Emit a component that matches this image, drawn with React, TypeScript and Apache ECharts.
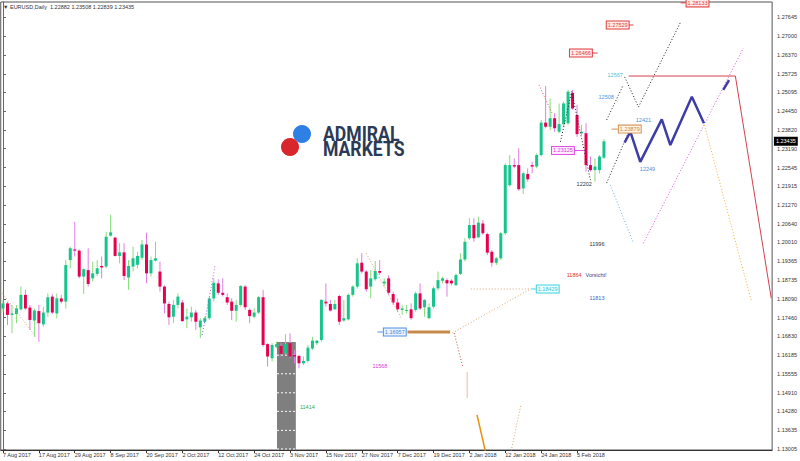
import React, { useEffect, useRef } from 'react';
import * as echarts from 'echarts';

const FONT = '"Liberation Sans", Arial, sans-serif';

const titleText = '\u25BC EURUSD,Daily  1.22882 1.23508 1.22839 1.23435';

const yTicks = [1.13005, 1.13635, 1.1428, 1.1491, 1.15555, 1.16185, 1.1683, 1.1746, 1.1809, 1.18735, 1.19365, 1.2001,
  1.2064, 1.2127, 1.21915, 1.22545, 1.2319, 1.2382, 1.2445, 1.25095, 1.25725, 1.2637, 1.27, 1.27645];

const xTickIdx = [0, 8, 16, 24, 32, 40, 48, 56, 64, 72, 80, 88, 96, 104, 112, 120, 128];
const xTickLabels = ['7 Aug 2017', '17 Aug 2017', '29 Aug 2017', '8 Sep 2017', '20 Sep 2017', '2 Oct 2017', '12 Oct 2017',
  '24 Oct 2017', '3 Nov 2017', '15 Nov 2017', '27 Nov 2017', '7 Dec 2017', '19 Dec 2017', '2 Jan 2018', '12 Jan 2018',
  '24 Jan 2018', '5 Feb 2018'];

// [open, high, low, close]
const candles: number[][] = [
  [1.1777, 1.1806, 1.1766, 1.1794], [1.1794, 1.18, 1.1721, 1.1755], [1.1755, 1.1789, 1.1693, 1.176], [1.1758, 1.1789, 1.1727, 1.1777],
  [1.1774, 1.1851, 1.1769, 1.1823], [1.1823, 1.184, 1.1772, 1.1777], [1.178, 1.1789, 1.1704, 1.1738], [1.1736, 1.1777, 1.1681, 1.177],
  [1.1768, 1.1789, 1.1664, 1.1727], [1.1723, 1.1783, 1.1715, 1.1763], [1.1763, 1.1828, 1.1749, 1.1815], [1.1817, 1.1826, 1.1758, 1.1763],
  [1.176, 1.1828, 1.1743, 1.1811], [1.1811, 1.1823, 1.1794, 1.18], [1.18, 1.1941, 1.1777, 1.1924], [1.1941, 1.1986, 1.1913, 1.1981],
  [1.1977, 1.2071, 1.1953, 1.1973], [1.1973, 1.1977, 1.1879, 1.1885], [1.1885, 1.1913, 1.1826, 1.191], [1.1907, 1.1981, 1.1851, 1.186],
  [1.1879, 1.1936, 1.1868, 1.1896], [1.1894, 1.1941, 1.1887, 1.1913], [1.1921, 1.1953, 1.1879, 1.1916], [1.1919, 1.2037, 1.1913, 1.202],
  [1.2024, 1.2094, 1.202, 1.2035], [1.2017, 1.202, 1.1953, 1.1955], [1.1955, 1.1998, 1.193, 1.1967], [1.1967, 1.1998, 1.1873, 1.1887],
  [1.1882, 1.1941, 1.184, 1.1921], [1.1919, 1.1986, 1.1902, 1.1947], [1.1925, 1.1969, 1.1913, 1.1955], [1.1949, 1.2009, 1.1941, 1.1994],
  [1.1994, 1.2034, 1.1862, 1.1896], [1.1896, 1.1953, 1.1885, 1.1941], [1.1939, 1.2003, 1.1936, 1.1947], [1.1902, 1.1936, 1.1834, 1.1851],
  [1.1851, 1.1856, 1.176, 1.1794], [1.1792, 1.18, 1.1721, 1.1747], [1.1749, 1.1806, 1.1727, 1.1789], [1.1789, 1.1828, 1.1777, 1.1817],
  [1.1797, 1.1806, 1.1732, 1.1734], [1.174, 1.1777, 1.171, 1.1749], [1.1747, 1.1783, 1.1732, 1.1763], [1.1763, 1.1772, 1.1704, 1.1732],
  [1.1713, 1.1744, 1.1676, 1.1736], [1.1732, 1.1749, 1.1727, 1.1744], [1.1744, 1.1817, 1.1738, 1.1811], [1.1811, 1.1879, 1.18, 1.1864],
  [1.1862, 1.1876, 1.1823, 1.183], [1.183, 1.1879, 1.1817, 1.1823], [1.1815, 1.1828, 1.1789, 1.1797], [1.18, 1.1811, 1.1738, 1.1769],
  [1.1769, 1.1806, 1.1732, 1.1789], [1.1789, 1.1856, 1.1783, 1.1853], [1.1851, 1.1856, 1.1772, 1.1781], [1.1772, 1.1777, 1.1727, 1.1751],
  [1.1749, 1.1777, 1.1743, 1.1763], [1.1763, 1.1819, 1.1758, 1.1815], [1.1815, 1.184, 1.1647, 1.1653], [1.1656, 1.1659, 1.158, 1.1614],
  [1.1608, 1.1659, 1.1597, 1.1653], [1.1647, 1.1664, 1.1642, 1.1656], [1.165, 1.1659, 1.1614, 1.1623], [1.1625, 1.169, 1.1619, 1.1656],
  [1.1659, 1.1693, 1.1608, 1.1614], [1.1619, 1.1636, 1.1591, 1.1614], [1.1616, 1.1619, 1.1574, 1.1591], [1.1591, 1.1614, 1.1585, 1.1599],
  [1.1599, 1.1653, 1.1593, 1.1644], [1.1641, 1.1681, 1.1636, 1.1668], [1.1659, 1.167, 1.1653, 1.1668], [1.167, 1.1808, 1.1664, 1.1806],
  [1.18, 1.1862, 1.1783, 1.1794], [1.1792, 1.1806, 1.1766, 1.177], [1.1774, 1.1806, 1.1772, 1.1792], [1.1819, 1.1823, 1.1721, 1.1732],
  [1.1736, 1.1806, 1.1732, 1.1744], [1.174, 1.1828, 1.1736, 1.1823], [1.1823, 1.1856, 1.1817, 1.1851], [1.1851, 1.1947, 1.1845, 1.193],
  [1.1932, 1.1964, 1.1896, 1.1902], [1.1902, 1.1907, 1.1834, 1.1842], [1.1851, 1.1907, 1.1811, 1.1879], [1.1876, 1.1938, 1.1871, 1.1904],
  [1.1904, 1.1941, 1.189, 1.1898], [1.1862, 1.1879, 1.1851, 1.1868], [1.1879, 1.189, 1.1823, 1.183], [1.1826, 1.1834, 1.1789, 1.1797],
  [1.1797, 1.1811, 1.1766, 1.1774], [1.1772, 1.1789, 1.1755, 1.1777], [1.177, 1.1789, 1.176, 1.1772], [1.1774, 1.1794, 1.1738, 1.1744],
  [1.1772, 1.1834, 1.1766, 1.1828], [1.1828, 1.1862, 1.1772, 1.1777], [1.1781, 1.1808, 1.1749, 1.1806], [1.1744, 1.1794, 1.174, 1.1781],
  [1.1783, 1.1851, 1.1777, 1.1845], [1.1845, 1.1902, 1.1839, 1.1873], [1.1871, 1.1885, 1.1862, 1.1879], [1.1873, 1.1879, 1.1817, 1.1862],
  [1.1871, 1.1876, 1.1856, 1.1862], [1.1856, 1.1896, 1.1853, 1.189], [1.1894, 1.1964, 1.189, 1.1943], [1.1943, 1.2015, 1.1936, 1.2003],
  [1.2015, 1.2083, 1.2009, 1.206], [1.206, 1.2083, 1.2003, 1.2015], [1.2018, 1.2088, 1.2015, 1.2068], [1.2065, 1.2077, 1.2026, 1.2032],
  [1.2029, 1.2034, 1.1958, 1.1966], [1.1969, 1.1975, 1.1919, 1.1932], [1.1932, 1.1952, 1.1924, 1.1947], [1.1947, 1.2037, 1.1941, 1.2032],
  [1.2032, 1.2269, 1.2026, 1.2263], [1.2195, 1.2297, 1.219, 1.2263], [1.2263, 1.2286, 1.2252, 1.2258], [1.2263, 1.232, 1.2176, 1.2181],
  [1.2184, 1.2241, 1.2165, 1.2235], [1.2233, 1.2252, 1.2207, 1.2215], [1.2263, 1.2274, 1.2235, 1.2258], [1.2258, 1.2303, 1.2252, 1.2297],
  [1.2297, 1.2416, 1.2292, 1.2407], [1.2407, 1.2531, 1.2388, 1.2393], [1.2393, 1.2489, 1.2382, 1.2422], [1.2422, 1.2439, 1.2376, 1.2388],
  [1.2376, 1.2472, 1.2371, 1.2402], [1.2402, 1.2478, 1.2393, 1.2472], [1.2405, 1.2518, 1.2399, 1.2512], [1.2508, 1.2518, 1.245, 1.2455],
  [1.2433, 1.2467, 1.2359, 1.2368], [1.2371, 1.2399, 1.2365, 1.2376], [1.2371, 1.2405, 1.2241, 1.2263], [1.2263, 1.2292, 1.2241, 1.2246],
  [1.2246, 1.2286, 1.2207, 1.2258], [1.2246, 1.2297, 1.2235, 1.2292], [1.22882, 1.23508, 1.22839, 1.23435],
];

// grey rectangle object: [fromBar, toBar, topPrice]
const shadeBox = [61.1, 65.3, 1.1663];

// annotation lines: [barIndex, price]
const lineLeftTan = [[-0.1, 1.1828], [7.3, 1.1681]];
const lineOctBlue = [[44.4, 1.1687], [45.9, 1.1806]];
const lineOctMagenta = [[45.9, 1.1806], [47.3, 1.1924]];
const lineNovTan = [[81.0, 1.1964], [88.8, 1.1745]];
const lineTargetFlat = [[104.3, 1.18429], [117.3, 1.18429]];
const lineTargetRise = [[100.2, 1.1694], [117.3, 1.184]];
const lineDropRed = [[100.6, 1.1694], [102.5, 1.158]];
const lineSalmonV = [[103.5, 1.1562], [103.5, 1.1473]];
const lineOrange = [[105.7, 1.1416], [108.2, 1.125]];
const lineLowTan = [[113.3, 1.1294], [115.5, 1.145]];
const thickBar = [[90.2, 1.1697], [99.7, 1.1697]];
const lineRedTop = [[119.5, 1.2535], [122.4, 1.244]];
const lineBlack1 = [[124.3, 1.2342], [126.8, 1.2512], [131.0, 1.2212]];
const lineBlack2 = [[134.6, 1.2416], [138.2, 1.2531]];
const lineBlack3 = [[138.6, 1.2562], [141.7, 1.246], [151.1, 1.2748]];
const lineBlack4 = [[134.6, 1.2202], [139.5, 1.2375]];
const lineLightBlue = [[135.4, 1.2196], [140.6, 1.1998]];
const lineMagenta = [[142.8, 1.1998], [165.1, 1.266]];
const lineGold = [[156.4, 1.2399], [166.8, 1.1806]];
const lineRed = [[139.5, 1.2565], [163.3, 1.2565], [171.3, 1.1812]];
const blueWave = [[138.6, 1.2339], [139.9, 1.2376], [142.1, 1.2274], [146.9, 1.2418], [148.8, 1.2331], [153.6, 1.2495], [156.3, 1.2405]];
const blueWave2 = [[160.6, 1.2518], [161.9, 1.2551]];
const connRed1 = [[131.3, 1.2643], [132.6, 1.2643]];
const connRed2 = [[139.3, 1.2738], [140.6, 1.2738]];
const connRed3 = [[151.1, 1.2813], [152.2, 1.2813]];
const connTan = [[135.7, 1.2385], [137.1, 1.2385]];
const connMagenta = [[127.3, 1.23125], [129.5, 1.23125]];
const connCyan = [[117.7, 1.18429], [118.8, 1.18429]];
const connBlue = [[83.5, 1.1697], [84.7, 1.1697]];

// text labels: text, barIndex, price, style kind
const textLabels = [
  { t: '1.28133', x: 152.2, p: 1.2813, k: 'boxRed' },
  { t: '1.27529', x: 134.4, p: 1.2738, k: 'boxRed' },
  { t: '1.26466', x: 126.2, p: 1.2643, k: 'boxRed' },
  { t: '1.23879', x: 137.1, p: 1.2385, k: 'boxTan' },
  { t: '1.23125', x: 122.2, p: 1.23125, k: 'boxMagenta' },
  { t: '1.18429', x: 118.8, p: 1.18429, k: 'boxCyan' },
  { t: '1.16957', x: 84.7, p: 1.1697, k: 'boxBlue' },
  { t: '12567', x: 134.8, p: 1.2568, k: 'cyan' },
  { t: '12508', x: 132.8, p: 1.2494, k: 'blue' },
  { t: '12421', x: 141.1, p: 1.2416, k: 'blue' },
  { t: '12249', x: 142.0, p: 1.225, k: 'blue' },
  { t: '12202', x: 127.9, p: 1.2199, k: 'dark' },
  { t: '11996', x: 130.8, p: 1.1996, k: 'dark' },
  { t: '11864', x: 125.7, p: 1.189, k: 'red' },
  { t: 'Vorsicht!', x: 129.9, p: 1.189, k: 'navy' },
  { t: '11813', x: 130.8, p: 1.1812, k: 'navy2' },
  { t: '11568', x: 82.4, p: 1.1582, k: 'magenta' },
  { t: '11414', x: 66.2, p: 1.1443, k: 'green' },
];

const labelStyles: Record<string, any> = {
  boxRed: { c: '#e03c3c', bg: '#ffeaea', bd: '#e03c3c' },
  boxTan: { c: '#c8863e', bg: '#fff3e6', bd: '#d09050' },
  boxMagenta: { c: '#d640d6', bg: '#ffeaff', bd: '#e050e0' },
  boxCyan: { c: '#38c4d8', bg: '#eaffff', bd: '#40d0e0' },
  boxBlue: { c: '#4a88d8', bg: '#eaf4ff', bd: '#5090e0' },
  tag: { c: '#ffffff', bg: '#000000', bd: '#000000' },
  cyan: { c: '#4cc4d8' },
  blue: { c: '#4a8ee0' },
  dark: { c: '#333333' },
  red: { c: '#e03030' },
  navy: { c: '#3a3a8a' },
  navy2: { c: '#4a64b8' },
  magenta: { c: '#d040d0' },
  green: { c: '#3fa03f' },
};

const BULL_BODY = '#16c48c';
const BULL_WICK = '#84de7a';
const BEAR_BODY = '#e6004e';
const BEAR_WICK = '#e07ee6';

function lineSeries(data: number[][], color: string, type: any = [1, 2], width = 1) {
  return {
    type: 'line', data, symbol: 'none', showSymbol: false, silent: true, clip: true, z: 4,
    lineStyle: { color, width, type }, emphasis: { disabled: true },
  };
}

export default function App() {
  const ref = useRef<HTMLDivElement>(null);
  useEffect(() => {
    if (!ref.current) return;
    const chart = echarts.init(ref.current, undefined, { renderer: 'svg' });
    const lastClose = candles[candles.length - 1][3];
    const labelData = textLabels.map((d, k) => [d.x, d.p, k]);
    labelData.push([171.9, lastClose, -1]);

    const option: any = {
      animation: false,
      backgroundColor: '#ffffff',
      grid: { left: 0, right: 25, top: 2, bottom: 11, show: true, borderColor: '#555', borderWidth: 1, backgroundColor: '#fff' },
      xAxis: {
        type: 'value', min: -0.5, max: 171.5,
        axisLine: { show: true, onZero: false, lineStyle: { color: '#333' } },
        axisTick: { show: true, customValues: xTickIdx, length: 3, lineStyle: { color: '#333' } },
        axisLabel: {
          customValues: xTickIdx,
          formatter: (v: number) => xTickLabels[xTickIdx.indexOf(Math.round(v))] ?? '',
          align: 'left', fontSize: 5.5, color: '#333', margin: 2, fontFamily: FONT,
        },
        splitLine: { show: false },
      },
      yAxis: {
        type: 'value', position: 'right', min: 1.1297, max: 1.2816, scale: true,
        axisLine: { show: true, lineStyle: { color: '#666' } },
        axisTick: { show: true, customValues: yTicks, length: 3, lineStyle: { color: '#666' } },
        axisLabel: {
          customValues: yTicks, formatter: (v: number) => v.toFixed(5),
          fontSize: 5.5, color: '#333', margin: 5, fontFamily: FONT,
        },
        splitLine: { show: false },
      },
      graphic: [
        { type: 'text', left: 3, top: 4, z: 10, style: { text: titleText, font: `5.5px ${FONT}`, fill: '#333' } },
        { type: 'circle', shape: { cx: 302, cy: 134, r: 9 }, style: { fill: '#2f80e4' }, z: 10 },
        { type: 'circle', shape: { cx: 290, cy: 147, r: 9 }, style: { fill: '#d8262d' }, z: 10 },
        { type: 'text', x: 323, y: 134.5, scaleX: 0.88, z: 10,
          style: { text: 'ADMIRAL', font: `bold 20px Roboto`, fill: '#2b3a55', align: 'left', verticalAlign: 'middle' } },
        { type: 'text', x: 323, y: 149.5, scaleX: 0.88, z: 10,
          style: { text: 'MARKETS', font: `bold 20px Roboto`, fill: '#2b3a55', align: 'left', verticalAlign: 'middle' } },
      ],
      series: [
        {
          type: 'custom', silent: true, z: 1, data: [shadeBox],
          encode: { x: [0, 1], y: 2 },
          renderItem: (_p: any, api: any) => {
            const a = api.coord([api.value(0), api.value(2)]);
            const b = api.coord([api.value(1), 1.1297]);
            const children: any[] = [
              { type: 'rect', shape: { x: a[0], y: a[1], width: b[0] - a[0], height: b[1] - a[1] }, style: { fill: '#7f7f7f' } },
            ];
            yTicks.forEach((t) => {
              if (t < api.value(2)) {
                const q = api.coord([api.value(0), t]);
                children.push({ type: 'line', shape: { x1: a[0], y1: q[1], x2: b[0], y2: q[1] },
                  style: { stroke: '#ffffff', lineWidth: 1, lineDash: [2, 2] } });
              }
            });
            return { type: 'group', children };
          },
        },
        {
          type: 'custom', silent: true, z: 2,
          data: candles.map((c, i) => [i, c[0], c[1], c[2], c[3]]),
          encode: { x: 0, y: [1, 2, 3, 4] },
          renderItem: (_p: any, api: any) => {
            const i = api.value(0);
            const o = api.value(1), h = api.value(2), l = api.value(3), c = api.value(4);
            const pO = api.coord([i, o]);
            const pC = api.coord([i, c]);
            const pH = api.coord([i, h]);
            const pL = api.coord([i, l]);
            const bull = c >= o;
            const w = 3;
            const top = Math.min(pO[1], pC[1]);
            const hgt = Math.max(Math.abs(pO[1] - pC[1]), 1);
            return {
              type: 'group', children: [
                { type: 'line', shape: { x1: pH[0], y1: pH[1], x2: pL[0], y2: pL[1] }, style: { stroke: bull ? BULL_WICK : BEAR_WICK, lineWidth: 1 } },
                { type: 'rect', shape: { x: pO[0] - w / 2, y: top, width: w, height: hgt }, style: { fill: bull ? BULL_BODY : BEAR_BODY } },
              ],
            };
          },
        },
        lineSeries(lineLeftTan, '#d8a878'),
        lineSeries(lineOctBlue, '#6a6ae0'),
        lineSeries(lineOctMagenta, '#d060e0'),
        lineSeries(lineNovTan, '#d8a070'),
        lineSeries(lineTargetFlat, '#d8a878'),
        lineSeries(lineTargetRise, '#d8a878'),
        lineSeries(lineDropRed, '#d04848'),
        lineSeries(lineSalmonV, '#f0b8a8', 'solid', 1),
        lineSeries(lineOrange, '#e8900c', 'solid', 1.5),
        lineSeries(lineLowTan, '#d8a878'),
        lineSeries(thickBar, '#c88a4a', 'solid', 3),
        lineSeries(lineRedTop, '#e06060'),
        lineSeries(lineBlack1, '#222222'),
        lineSeries(lineBlack2, '#222222'),
        lineSeries(lineBlack3, '#222222'),
        lineSeries(lineBlack4, '#222222'),
        lineSeries(lineLightBlue, '#70b0e0'),
        lineSeries(lineMagenta, '#d850e0'),
        lineSeries(lineGold, '#f0b040'),
        lineSeries(lineRed, '#d44050', 'solid', 1),
        lineSeries(blueWave, '#3d3da8', 'solid', 2.5),
        lineSeries(blueWave2, '#3d3da8', 'solid', 2.5),
        lineSeries(connRed1, '#e03c3c', 'solid', 1),
        lineSeries(connRed2, '#e03c3c', 'solid', 1),
        lineSeries(connRed3, '#e03c3c', 'solid', 1),
        lineSeries(connTan, '#d09050', 'solid', 1),
        lineSeries(connMagenta, '#e050e0', 'solid', 1),
        lineSeries(connCyan, '#40d0e0', 'solid', 1),
        lineSeries(connBlue, '#5090e0', 'solid', 1),
        {
          type: 'custom', silent: true, z: 6, clip: false,
          data: labelData,
          encode: { x: 0, y: 1 },
          renderItem: (_p: any, api: any) => {
            const k = api.value(2);
            const isTag = k < 0;
            const d = isTag ? { t: lastClose.toFixed(5), k: 'tag' } : textLabels[k];
            const s = labelStyles[d.k];
            const pt = api.coord([api.value(0), api.value(1)]);
            const boxed = !!s.bd;
            return {
              type: 'text', x: pt[0] + (boxed ? 1 : 0), y: pt[1],
              style: {
                text: d.t, fill: s.c, font: `5.5px ${FONT}`, align: 'left', verticalAlign: 'middle',
                backgroundColor: s.bg, borderColor: s.bd, borderWidth: boxed ? 1 : 0,
                padding: boxed ? [1, 1, 0, 1] : 0,
              },
            };
          },
        },
      ],
    };
    chart.setOption(option);
    return () => chart.dispose();
  }, []);
  return <div ref={ref} style={{ position: 'fixed', left: 0, top: 0, width: 800, height: 461, background: '#fff' }} />;
}
